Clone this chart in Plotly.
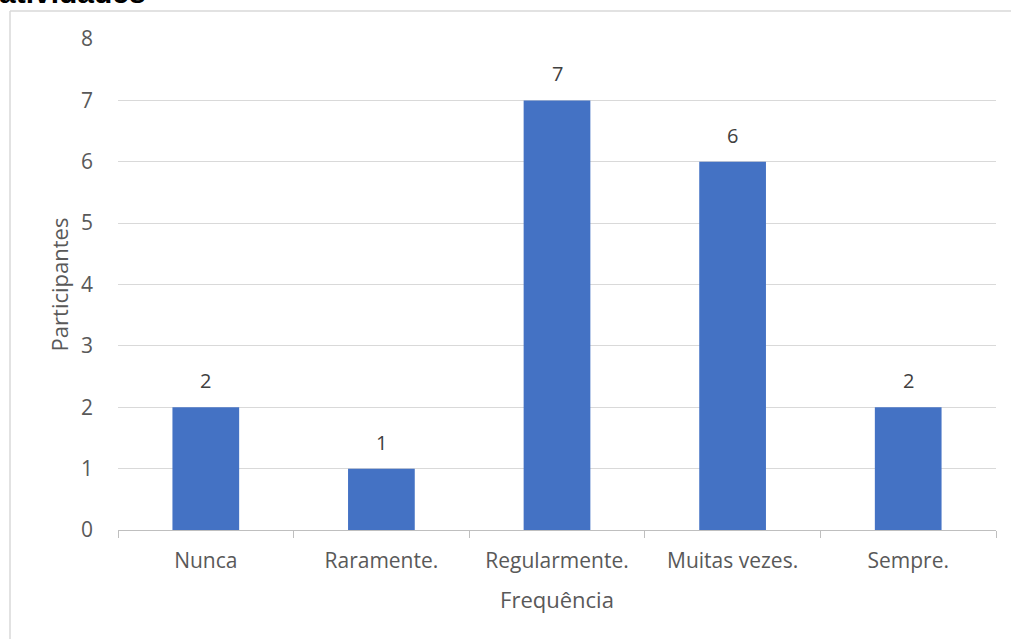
import plotly.graph_objects as go

categorias = ["Nunca", "Raramente.", "Regularmente.", "Muitas vezes.", "Sempre."]
participantes = [2, 1, 7, 6, 2]
y_ticks = [0, 1, 2, 3, 4, 5, 6, 7, 8]

W, H = 1011, 639
L, R, T, B = 118, 15, 39, 109
pw, ph = W - L - R, H - T - B

font_fam = "Open Sans, Noto Sans, sans-serif"
grey = "#595959"

fig = go.Figure()
fig.add_trace(go.Bar(
    x=categorias, y=participantes,
    marker=dict(color="#4472c4", line=dict(width=0)),
    hoverinfo="x+y",
))

# value labels above each bar
for c, v in zip(categorias, participantes):
    fig.add_annotation(x=c, y=v, text=str(v), showarrow=False,
                       yanchor="bottom", yshift=11,
                       font=dict(family=font_fam, size=20, color="#404040"))

# outer chart frame (left and top edges)
fx = (10 - L) / pw
fy = 1 + (T - 11) / ph
fig.add_shape(type="line", xref="paper", yref="paper", x0=fx, x1=fx, y0=fy, y1=-1,
              line=dict(color="#d9d9d9", width=1.5))
fig.add_shape(type="line", xref="paper", yref="paper", x0=fx, x1=2, y0=fy, y1=fy,
              line=dict(color="#d9d9d9", width=1.5))

# partially visible chart title
fig.add_annotation(xref="paper", yref="paper", x=(-3 - L) / pw, y=1 + (T - 11) / ph,
                   xanchor="left", yanchor="bottom", showarrow=False,
                   text="<b>atividades</b>",
                   font=dict(family="Liberation Sans, Arial, sans-serif", size=30, color="#000000"))

fig.update_layout(
    width=W, height=H,
    margin=dict(l=L, r=R, t=T, b=B, pad=0),
    paper_bgcolor="white", plot_bgcolor="white",
    bargap=0.62,
    showlegend=False,
    font=dict(family=font_fam, color=grey),
    xaxis=dict(
        type="category",
        tickson="boundaries", ticks="outside", ticklen=7, tickcolor="#bfbfbf", tickwidth=1,
        showline=True, linecolor="#bfbfbf", linewidth=1,
        showgrid=False,
        ticklabelstandoff=12,
        tickfont=dict(size=21, color=grey),
        title=dict(text="Frequência", font=dict(size=22, color=grey), standoff=19),
    ),
    yaxis=dict(
        range=[0, 8], tickvals=y_ticks, ticktext=[str(t) for t in y_ticks],
        showgrid=True, gridcolor="#d9d9d9", gridwidth=1,
        zeroline=False, showline=False, ticks="",
        ticklabelstandoff=24,
        tickfont=dict(size=21, color=grey),
        title=dict(text="Participantes", font=dict(size=22, color=grey), standoff=6),
    ),
)

fig.write_html("out.html")
